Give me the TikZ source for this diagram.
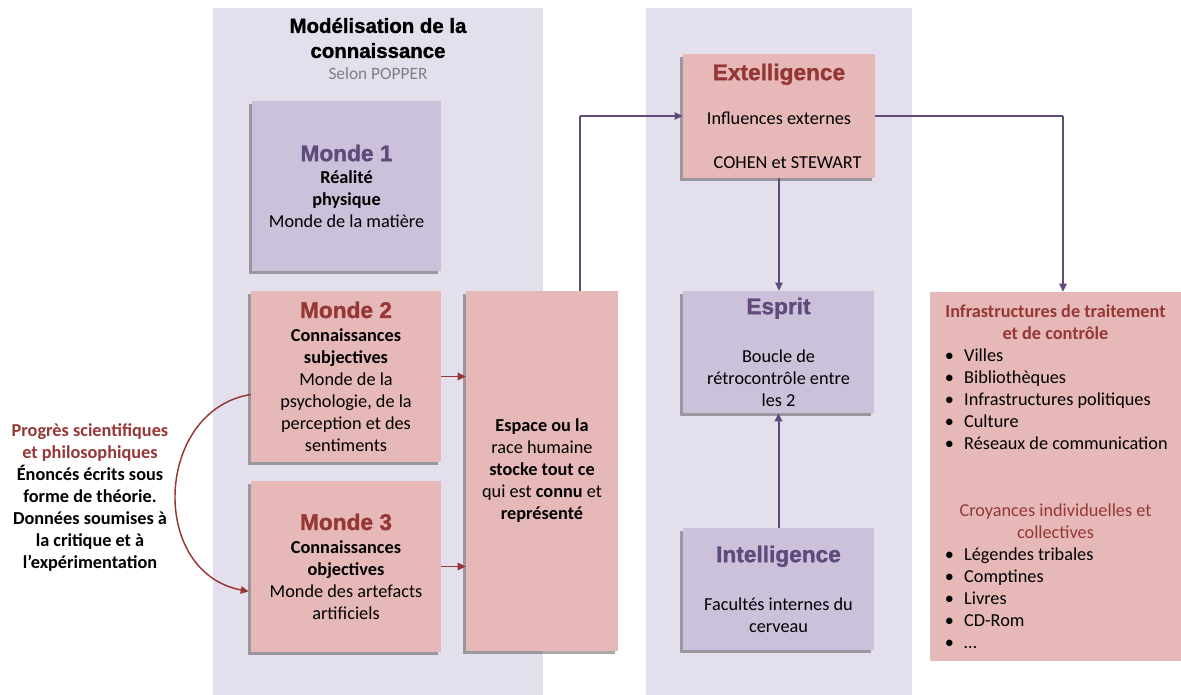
\documentclass[tikz,border=0pt]{standalone}
\usepackage{fontspec}
\setmainfont{Carlito}
\newfontfamily\headfont[FakeBold=1.3]{Liberation Sans Bold}
\usetikzlibrary{arrows.meta,shadows,calc}
\definecolor{panelbg}{HTML}{E4DFEC}
\definecolor{lavbox}{HTML}{CCC1DA}
\definecolor{pinkbox}{HTML}{E6B9B8}
\definecolor{dred}{HTML}{953735}
\definecolor{dpur}{HTML}{604A7B}
\definecolor{gtxt}{HTML}{7F7F7F}
\newcommand{\hd}[2]{{\color{#1}\headfont\fontsize{17}{16.5}\selectfont #2}}
\newcommand{\bl}{\hspace*{11pt}\makebox[14.5pt][l]{\textbullet}}
\begin{document}
\begin{tikzpicture}[x=0.75pt,y=-0.75pt,
  sz/.style 2 args={minimum width={#1*0.75pt}, minimum height={#2*0.75pt}},
  txt/.style={font=\fontsize{13.7}{16.5}\selectfont, align=center, text=black},
  shad/.style={drop shadow={shadow xshift=-2pt, shadow yshift=-2.5pt, opacity=0.45, fill=black!75}},
  lav/.style={fill=lavbox, inner sep=0pt, txt, shad},
  pinkb/.style={fill=pinkbox, inner sep=0pt, txt},
  pink/.style={pinkb, shad},
  rarr/.style={draw=dred, line width=1.1pt, -{Triangle[length=6pt,width=5.5pt]}},
  pthin/.style={draw=dpur, line width=0.8pt},
  pthick/.style={draw=dpur, line width=1.5pt},
  ptip/.style={-{Triangle[length=6pt,width=5.5pt]}}
]
\useasboundingbox (0,0) rectangle (1181,695);
% panels
\fill[panelbg] (213,8) rectangle (543,695);
\fill[panelbg] (646,8) rectangle (912,695);

% title
\node[align=center, font=\headfont\fontsize{15.3}{18.75}\selectfont] (title) at (378,38) {Modélisation de la\\connaissance};
\node[font=\fontsize{13}{16}\selectfont, text=gtxt] (selon) at (378,74) {Selon POPPER};

% left boxes
\node[lav, sz={189}{170}] (m1) at (346.5,186)
  {\hd{dpur}{Monde 1}\\ \textbf{Réalité}\\ \textbf{physique}\\ Monde de la matière};
\node[pink, sz={190}{171}] (m2) at (346,376.5)
  {\hd{dred}{Monde 2}\\[1pt] \textbf{Connaissances}\\ \textbf{subjectives}\\ Monde de la\\ psychologie, de la\\ perception et des\\ sentiments};
\node[pink, sz={190}{171}] (m3) at (346,566.5)
  {\hd{dred}{Monde 3}\\[1pt] \textbf{Connaissances}\\ \textbf{objectives}\\ Monde des artefacts\\ artificiels};
\node[pink, sz={152}{360}] (esp) at (542,471)
  {\textbf{Espace ou la}\\ race humaine\\ \textbf{stocke tout ce}\\ qui est \textbf{connu} et\\ \textbf{représenté}};

% annotation
\node[txt, font=\bfseries\fontsize{13.7}{16.5}\selectfont] (prog) at (90,498)
  {{\color{dred}Progrès scientifiques}\\ {\color{dred}et philosophiques}\\ Énoncés écrits sous\\ forme de théorie.\\ Données soumises à\\ la critique et à\\ l'expérimentation};

% middle boxes
\node[pink, sz={192}{124}] (ext) at (779,116)
  {\hd{dred}{Extelligence}\\[17pt] Influences externes\\[16pt] \hspace*{13pt}COHEN et STEWART};
\node[lav, sz={191}{122}] (espr) at (778.5,352)
  {\hd{dpur}{Esprit}\\[19.5pt] Boucle de\\ rétrocontrôle entre\\ les 2};
\node[lav, sz={191}{122}] (intel) at (778.5,589)
  {\hd{dpur}{Intelligence}\\[19.5pt] Facultés internes du\\ cerveau};

% right box
\node[pinkb, sz={251}{369}] (infra) at (1055.5,476.5) {};
\node[txt, inner sep=0pt] (infratxt) at (infra.center) {\begin{minipage}{188pt}
  {\centering\color{dred}\textbf{Infrastructures de traitement}\\ \textbf{et de contrôle}\par}
  \raggedright
  \bl Villes\\
  \bl Bibliothèques\\
  \bl Infrastructures politiques\\
  \bl Culture\\
  \bl Réseaux de communication\par
  \vspace{33.5pt}
  {\centering\color{dred}Croyances individuelles et\\ collectives\par}
  \bl Légendes tribales\\
  \bl Comptines\\
  \bl Livres\\
  \bl CD-Rom\\
  \bl …
\end{minipage}};

% red connectors
\draw[rarr] (m2.east) -- (m2.east -| esp.west);
\draw[rarr] (m3.east) -- (m3.east -| esp.west);
\draw[rarr] ($(m2.west)+(0,18)$) .. controls (155,410) and (148,572) .. ($(m3.west)+(-2,25)$);

% purple connectors
\coordinate (c1) at ($(esp.north west)+(114,0)$);
\coordinate (c2) at (c1 |- ext.west);
\draw[pthick] (c1) -- (c2);
\draw[pthin, ptip] (c2) -- (ext.west);
\draw[pthin, ptip] (ext.south) -- (ext.south |- espr.north);
\draw[pthick, ptip] (intel.north) -- (intel.north |- espr.south);
\coordinate (c3) at (1063,116);
\draw[pthin] (ext.east) -- (c3);
\draw[pthick, ptip] (c3) -- (c3 |- infra.north);
\end{tikzpicture}
\end{document}
